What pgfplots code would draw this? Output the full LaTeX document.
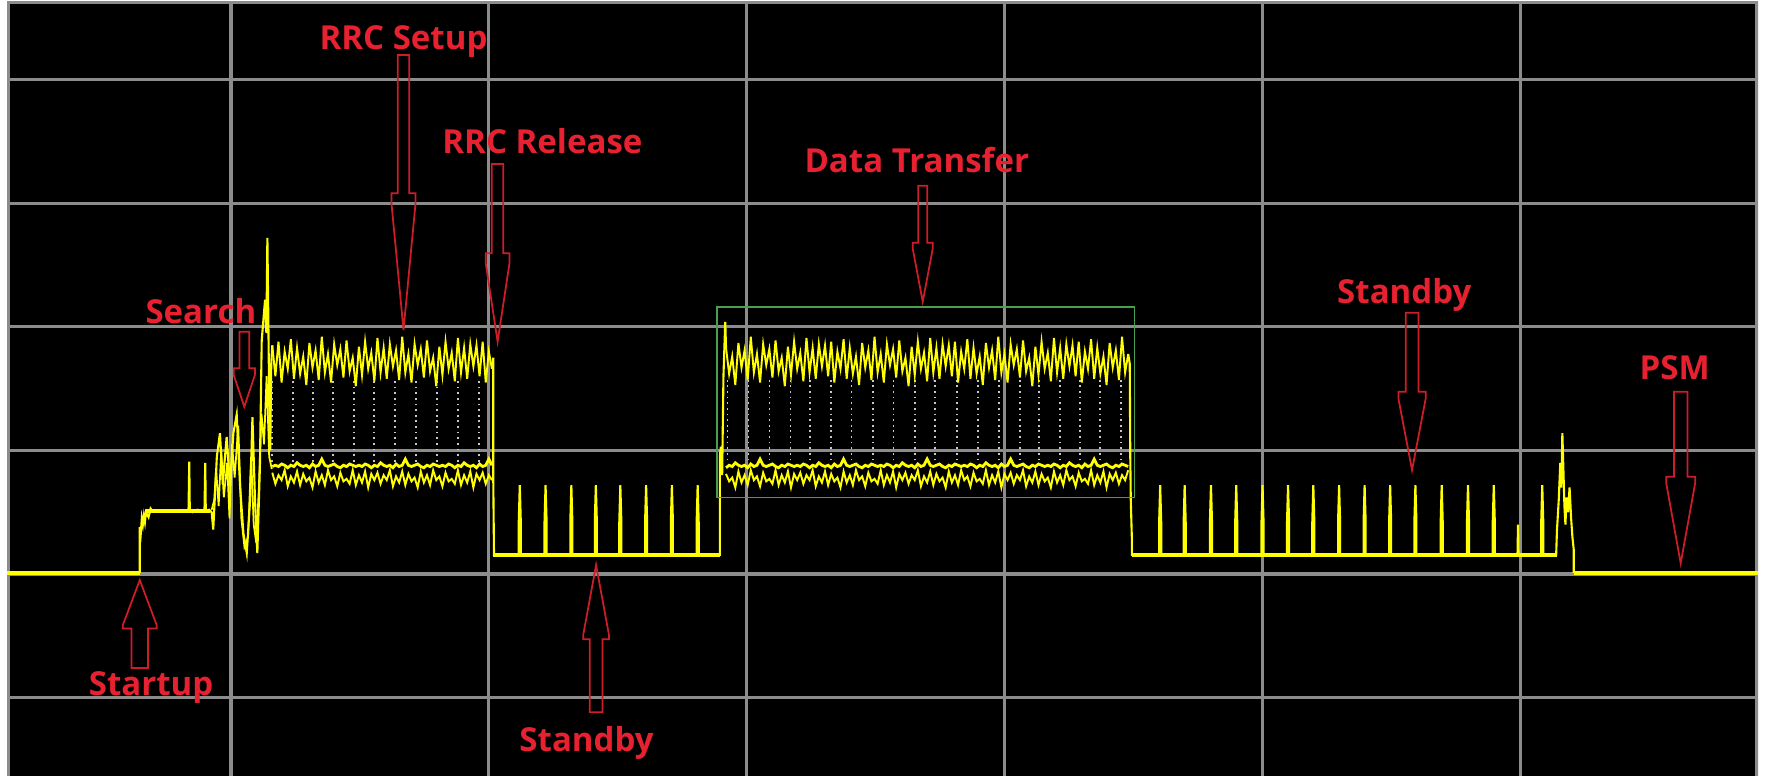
\documentclass[border=0pt]{standalone}
\usepackage{pgfplots}
\pgfplotsset{compat=1.18}
\usepackage{pgfplotstable}
\usepackage{fontspec}
\setmainfont{Open Sans}
\definecolor{trace}{RGB}{255,255,0}
\definecolor{gridgray}{RGB}{140,140,140}
\definecolor{labelred}{RGB}{232,33,48}
\definecolor{arrowred}{RGB}{205,30,40}
\definecolor{boxgreen}{RGB}{70,160,80}
\definecolor{dotgray}{RGB}{200,200,200}

\pgfplotstableread{
x u l m
0.160 1.85 0.82 0.87
0.172 1.60 0.73 0.88
0.184 1.88 0.80 0.87
0.196 1.55 0.76 0.89
0.208 1.80 0.84 0.88
0.220 1.66 0.71 0.86
0.232 1.90 0.79 0.88
0.244 1.58 0.74 0.87
0.256 1.83 0.83 0.90
0.268 1.62 0.72 0.88
0.280 1.76 0.81 0.87
0.292 1.53 0.75 0.88
0.304 1.87 0.78 0.86
0.316 1.67 0.70 0.89
0.328 1.81 0.83 0.87
0.340 1.57 0.74 0.88
0.352 1.92 0.80 0.93
0.364 1.63 0.72 0.88
0.376 1.78 0.84 0.87
0.388 1.55 0.76 0.88
0.400 1.86 0.79 0.89
0.412 1.69 0.71 0.87
0.424 1.82 0.82 0.86
0.436 1.59 0.75 0.88
0.448 1.89 0.77 0.87
0.460 1.64 0.73 0.89
0.472 1.75 0.84 0.88
0.484 1.52 0.72 0.87
0.496 1.84 0.80 0.88
0.508 1.61 0.74 0.87
0.520 1.88 0.83 0.89
0.532 1.66 0.70 0.88
0.544 1.79 0.81 0.86
0.556 1.56 0.76 0.88
0.568 1.91 0.82 0.87
0.580 1.63 0.73 0.90
0.592 1.83 0.80 0.88
0.604 1.58 0.76 0.87
0.616 1.86 0.84 0.88
0.628 1.68 0.71 0.86
0.640 1.81 0.79 0.89
0.652 1.57 0.74 0.87
0.664 1.92 0.83 0.88
0.676 1.63 0.72 0.93
0.688 1.78 0.81 0.88
0.700 1.55 0.75 0.87
0.712 1.86 0.78 0.88
0.724 1.69 0.70 0.89
0.736 1.82 0.83 0.87
0.748 1.59 0.74 0.86
0.760 1.89 0.80 0.88
0.772 1.64 0.72 0.87
0.784 1.75 0.84 0.89
0.796 1.52 0.76 0.88
0.808 1.84 0.79 0.87
0.820 1.61 0.71 0.88
0.832 1.88 0.82 0.87
0.844 1.66 0.75 0.89
0.856 1.79 0.77 0.88
0.868 1.56 0.73 0.86
0.880 1.91 0.84 0.88
0.892 1.63 0.72 0.87
0.904 1.83 0.80 0.90
0.916 1.58 0.74 0.88
0.928 1.86 0.83 0.87
0.940 1.68 0.70 0.88
0.952 1.85 0.81 0.86
0.964 1.60 0.76 0.89
0.976 1.88 0.82 0.87
0.988 1.55 0.73 0.88
1.000 1.80 0.80 0.93
1.012 1.66 0.76 0.88
}\rrc

\pgfplotstableread{
x u l m
1.920 1.83 0.81 0.86
1.932 1.62 0.75 0.88
1.944 1.76 0.78 0.87
1.956 1.53 0.70 0.90
1.968 1.87 0.83 0.88
1.980 1.67 0.74 0.87
1.992 1.81 0.80 0.88
2.004 1.57 0.72 0.86
2.016 1.92 0.84 0.89
2.028 1.63 0.76 0.87
2.040 1.78 0.79 0.88
2.052 1.55 0.71 0.93
2.064 1.86 0.82 0.88
2.076 1.69 0.75 0.87
2.088 1.82 0.77 0.88
2.100 1.59 0.73 0.89
2.112 1.89 0.84 0.87
2.124 1.64 0.72 0.86
2.136 1.75 0.80 0.88
2.148 1.52 0.74 0.87
2.160 1.84 0.83 0.89
2.172 1.61 0.70 0.88
2.184 1.88 0.81 0.87
2.196 1.66 0.76 0.88
2.208 1.79 0.82 0.87
2.220 1.56 0.73 0.89
2.232 1.91 0.80 0.88
2.244 1.63 0.76 0.86
2.256 1.83 0.84 0.88
2.268 1.58 0.71 0.87
2.280 1.86 0.79 0.90
2.292 1.68 0.74 0.88
2.304 1.85 0.83 0.87
2.316 1.60 0.72 0.88
2.328 1.88 0.81 0.86
2.340 1.55 0.75 0.89
2.352 1.80 0.78 0.87
2.364 1.66 0.70 0.88
2.376 1.90 0.83 0.93
2.388 1.58 0.74 0.88
2.400 1.83 0.80 0.87
2.412 1.62 0.72 0.88
2.424 1.76 0.84 0.89
2.436 1.53 0.76 0.87
2.448 1.87 0.79 0.86
2.460 1.67 0.71 0.88
2.472 1.81 0.82 0.87
2.484 1.57 0.75 0.89
2.496 1.92 0.77 0.88
2.508 1.63 0.73 0.87
2.520 1.78 0.84 0.88
2.532 1.55 0.72 0.87
2.544 1.86 0.80 0.89
2.556 1.69 0.74 0.88
2.568 1.82 0.83 0.86
2.580 1.59 0.70 0.88
2.592 1.89 0.81 0.87
2.604 1.64 0.76 0.90
2.616 1.75 0.82 0.88
2.628 1.52 0.73 0.87
2.640 1.84 0.80 0.88
2.652 1.61 0.76 0.86
2.664 1.88 0.84 0.89
2.676 1.66 0.71 0.87
2.688 1.79 0.79 0.88
2.700 1.56 0.74 0.93
2.712 1.91 0.83 0.88
2.724 1.63 0.72 0.87
2.736 1.83 0.81 0.88
2.748 1.58 0.75 0.89
2.760 1.86 0.78 0.87
2.772 1.68 0.70 0.86
2.784 1.85 0.83 0.88
2.796 1.60 0.74 0.87
2.808 1.88 0.80 0.89
2.820 1.55 0.72 0.88
2.832 1.80 0.84 0.87
2.844 1.66 0.76 0.88
2.856 1.90 0.79 0.87
2.868 1.58 0.71 0.89
2.880 1.83 0.82 0.88
2.892 1.62 0.75 0.86
2.904 1.76 0.77 0.88
2.916 1.53 0.73 0.87
2.928 1.87 0.84 0.90
2.940 1.67 0.72 0.88
2.952 1.81 0.80 0.87
2.964 1.57 0.74 0.88
2.976 1.92 0.83 0.86
2.988 1.63 0.70 0.89
3.000 1.78 0.81 0.87
3.012 1.55 0.76 0.88
3.024 1.86 0.82 0.93
3.036 1.69 0.73 0.88
3.048 1.82 0.80 0.87
3.060 1.59 0.76 0.88
3.072 1.89 0.84 0.89
3.084 1.64 0.71 0.87
3.096 1.75 0.79 0.86
3.108 1.52 0.74 0.88
3.120 1.84 0.83 0.87
3.132 1.61 0.72 0.89
3.144 1.88 0.81 0.88
3.156 1.66 0.75 0.87
3.168 1.79 0.78 0.88
3.180 1.56 0.70 0.87
3.192 1.91 0.83 0.89
3.204 1.63 0.74 0.88
3.216 1.83 0.80 0.86
3.228 1.58 0.72 0.88
3.240 1.86 0.84 0.87
3.252 1.68 0.76 0.90
3.264 1.85 0.79 0.88
3.276 1.60 0.71 0.87
3.288 1.88 0.82 0.88
3.300 1.55 0.75 0.86
3.312 1.80 0.77 0.89
3.324 1.66 0.73 0.87
3.336 1.90 0.84 0.88
3.348 1.58 0.72 0.93
3.360 1.83 0.80 0.88
3.372 1.62 0.74 0.87
3.384 1.76 0.83 0.88
3.396 1.53 0.70 0.89
3.408 1.87 0.81 0.87
3.420 1.67 0.76 0.86
3.432 1.81 0.82 0.88
3.444 1.57 0.73 0.87
3.456 1.92 0.80 0.89
3.468 1.63 0.76 0.88
3.480 1.78 0.84 0.87
}\dtr

% #1 centre x, #2 shaft end y, #3 head base y, #4 end of head's straight part, #5 tip y, #6 shaft half width, #7 head half width
\newcommand{\blockarrow}[7]{%
  \draw[arrowred, line width=0.5pt, line join=miter]
    (axis cs:#1-#6,#2) -- (axis cs:#1-#6,#3) -- (axis cs:#1-#7,#3) -- (axis cs:#1-#7,#4)
    -- (axis cs:#1,#5) -- (axis cs:#1+#7,#4) -- (axis cs:#1+#7,#3) -- (axis cs:#1+#6,#3)
    -- (axis cs:#1+#6,#2) -- cycle;}
\newcommand{\lab}{\fontsize{9.4}{10}\selectfont\bfseries}

\begin{document}
\begin{tikzpicture}
\path[use as bounding box] (-0.07,0) rectangle (17.58,7.76);
\begin{axis}[
  at={(0,0)}, anchor=south west,
  scale only axis, width=17.51cm, height=7.75cm,
  xmin=-0.869, xmax=5.923, ymin=-1.634, ymax=4.636,
  axis background/.style={fill=black},
  axis line style={draw=none},
  xtick={0,1,2,3,4,5}, ytick={-1,0,1,2,3,4},
  xmajorticks=false, ymajorticks=false,
  xmajorgrids=true, ymajorgrids=true,
  major grid style={gridgray, line width=0.9pt},
  unbounded coords=jump,
]
% frame on three sides (no line at the bottom edge)
\draw[gridgray, line width=1.8pt] (rel axis cs:0,0) -- (rel axis cs:0,1) -- (rel axis cs:1,1) -- (rel axis cs:1,0);

% thick flat levels
\addplot[trace, line width=1.3pt] coordinates {(-0.869,0.01) (-0.354,0.01)};
\addplot[trace, line width=1.3pt] coordinates {(5.208,0.01) (5.923,0.01)};
\addplot[trace, line width=1.0pt] coordinates {(-0.33,0.51) (-0.08,0.51)};
\addplot[trace, line width=1.0pt] coordinates {(1.017,0.155) (1.896,0.155)};
\addplot[trace, line width=1.0pt] coordinates {(3.494,0.155) (5.143,0.155)};

% startup and search
\addplot[trace, line width=0.6pt] coordinates {
(-0.354,0.01) (-0.354,0.38) (-0.350,0.33) (-0.346,0.45) (-0.342,0.40) (-0.338,0.47) (-0.334,0.42)
(-0.330,0.50) (-0.320,0.46) (-0.312,0.53) (-0.305,0.51) (-0.290,0.51) (-0.260,0.51) (-0.230,0.51)
(-0.200,0.51) (-0.165,0.51) (-0.162,0.91) (-0.160,0.51) (-0.150,0.50) (-0.130,0.52) (-0.103,0.51)
(-0.100,0.90) (-0.098,0.51) (-0.085,0.52) (-0.075,0.50) (-0.069,0.36) (-0.055,0.95) (-0.043,1.14)
(-0.032,0.73) (-0.017,1.11) (-0.004,0.71) (0.009,1.14) (0.022,1.29) (0.035,0.71) (0.048,0.33)
(0.061,0.17) (0.074,0.60) (0.083,1.27) (0.093,0.60) (0.102,0.17) (0.112,0.87) (0.119,1.89)
(0.132,2.22) (0.137,1.95) (0.141,2.72) (0.145,2.00) (0.148,1.40) (0.152,1.00) (0.156,1.70) (0.160,1.85)};
\addplot[trace, line width=0.5pt] coordinates {
(-0.075,0.52) (-0.065,0.60) (-0.058,0.85) (-0.048,0.55) (-0.038,1.00) (-0.028,0.62) (-0.015,0.90)
(-0.006,0.45) (0.004,1.05) (0.014,0.78) (0.028,1.20) (0.040,0.45) (0.052,0.22) (0.066,0.30)
(0.078,0.95) (0.088,0.40) (0.098,0.25) (0.108,0.70) (0.118,1.30) (0.128,1.05) (0.138,1.60)
(0.148,0.95) (0.158,0.85)};

% dotted retrace lines
\addplot[dotgray, line width=0.5pt, dash pattern=on 0.5pt off 1.1pt] coordinates {
(0.158,0.91) (0.158,1.56) (0.158,nan)
(0.240,0.91) (0.240,1.56) (0.240,nan)
(0.318,0.91) (0.318,1.56) (0.318,nan)
(0.396,0.91) (0.396,1.56) (0.396,nan)
(0.476,0.91) (0.476,1.56) (0.476,nan)
(0.555,0.91) (0.555,1.56) (0.555,nan)
(0.636,0.91) (0.636,1.56) (0.636,nan)
(0.718,0.91) (0.718,1.56) (0.718,nan)
(0.799,0.91) (0.799,1.56) (0.799,nan)
(0.880,0.91) (0.880,1.56) (0.880,nan)
(0.962,0.91) (0.962,1.56) (0.962,nan)
(1.926,0.92) (1.926,1.60) (1.926,nan)
(2.007,0.92) (2.007,1.60) (2.007,nan)
(2.089,0.92) (2.089,1.60) (2.089,nan)
(2.170,0.92) (2.170,1.60) (2.170,nan)
(2.247,0.92) (2.247,1.60) (2.247,nan)
(2.326,0.92) (2.326,1.60) (2.326,nan)
(2.407,0.92) (2.407,1.60) (2.407,nan)
(2.489,0.92) (2.489,1.60) (2.489,nan)
(2.570,0.92) (2.570,1.60) (2.570,nan)
(2.652,0.92) (2.652,1.60) (2.652,nan)
(2.730,0.92) (2.730,1.60) (2.730,nan)
(2.815,0.92) (2.815,1.60) (2.815,nan)
(2.897,0.92) (2.897,1.60) (2.897,nan)
(2.978,0.92) (2.978,1.60) (2.978,nan)
(3.060,0.92) (3.060,1.60) (3.060,nan)
(3.134,0.92) (3.134,1.60) (3.134,nan)
(3.215,0.92) (3.215,1.60) (3.215,nan)
(3.293,0.92) (3.293,1.60) (3.293,nan)
(3.371,0.92) (3.371,1.60) (3.371,nan)
(3.452,0.92) (3.452,1.60)};

% RRC bands
\addplot[trace, line width=0.55pt] table[x=x, y=u] {\rrc};
\addplot[trace, line width=0.55pt] table[x=x, y=l] {\rrc};
\addplot[trace, line width=0.8pt] table[x=x, y=m] {\rrc};
% data transfer bands
\addplot[trace, line width=0.55pt] table[x=x, y=u] {\dtr};
\addplot[trace, line width=0.55pt] table[x=x, y=l] {\dtr};
\addplot[trace, line width=0.8pt] table[x=x, y=m] {\dtr};

% RRC release and standby 1
\addplot[trace, line width=0.6pt] coordinates {
(1.012,1.66) (1.017,1.75) (1.017,0.80) (1.020,0.155)
(1.116,0.155) (1.116,0.42) (1.120,0.72) (1.124,0.42) (1.124,0.155)
(1.216,0.155) (1.216,0.42) (1.220,0.72) (1.224,0.42) (1.224,0.155)
(1.316,0.155) (1.316,0.42) (1.320,0.72) (1.324,0.42) (1.324,0.155)
(1.411,0.155) (1.411,0.42) (1.415,0.72) (1.419,0.42) (1.419,0.155)
(1.506,0.155) (1.506,0.42) (1.510,0.72) (1.514,0.42) (1.514,0.155)
(1.606,0.155) (1.606,0.42) (1.610,0.72) (1.614,0.42) (1.614,0.155)
(1.706,0.155) (1.706,0.42) (1.710,0.72) (1.714,0.42) (1.714,0.155)
(1.806,0.155) (1.806,0.42) (1.810,0.72) (1.814,0.42) (1.814,0.155)
(1.896,0.155) (1.896,0.95) (1.900,1.03) (1.905,0.80) (1.910,1.60) (1.917,2.04) (1.920,1.83)};

% end of data transfer, standby 2, final burst
\addplot[trace, line width=0.6pt] coordinates {
(3.480,1.78) (3.486,1.70) (3.488,0.95) (3.490,0.60) (3.494,0.30) (3.494,0.155)
(3.600,0.155) (3.600,0.42) (3.604,0.72) (3.608,0.42) (3.608,0.155)
(3.695,0.155) (3.695,0.42) (3.699,0.72) (3.703,0.42) (3.703,0.155)
(3.797,0.155) (3.797,0.42) (3.801,0.72) (3.805,0.42) (3.805,0.155)
(3.895,0.155) (3.895,0.42) (3.899,0.72) (3.903,0.42) (3.903,0.155)
(3.997,0.155) (3.997,0.42) (4.001,0.72) (4.005,0.42) (4.005,0.155)
(4.096,0.155) (4.096,0.42) (4.100,0.72) (4.104,0.42) (4.104,0.155)
(4.194,0.155) (4.194,0.42) (4.198,0.72) (4.202,0.42) (4.202,0.155)
(4.294,0.155) (4.294,0.42) (4.298,0.72) (4.302,0.42) (4.302,0.155)
(4.393,0.155) (4.393,0.42) (4.397,0.72) (4.401,0.42) (4.401,0.155)
(4.492,0.155) (4.492,0.42) (4.496,0.72) (4.500,0.42) (4.500,0.155)
(4.590,0.155) (4.590,0.42) (4.594,0.72) (4.598,0.42) (4.598,0.155)
(4.692,0.155) (4.692,0.42) (4.696,0.72) (4.700,0.42) (4.700,0.155)
(4.794,0.155) (4.794,0.42) (4.798,0.72) (4.802,0.42) (4.802,0.155)
(4.894,0.155) (4.894,0.42) (4.898,0.72) (4.902,0.42) (4.902,0.155)
(4.990,0.155) (4.992,0.40) (4.994,0.155)
(5.082,0.155) (5.082,0.42) (5.086,0.72) (5.090,0.42) (5.090,0.155)
(5.140,0.155) (5.143,0.35) (5.150,0.60) (5.156,0.90) (5.160,0.70) (5.164,1.14) (5.168,0.85)
(5.172,0.55) (5.176,0.40) (5.180,0.62) (5.186,0.50) (5.192,0.70) (5.198,0.45) (5.203,0.30)
(5.208,0.20) (5.208,0.01)};

% green selection box
\draw[boxgreen, line width=0.5pt] (axis cs:1.884,0.62) rectangle (axis cs:3.504,2.158);

% arrows
\blockarrow{0.669}{4.199}{3.08}{3.00}{1.974}{0.0222}{0.0467}
\blockarrow{1.034}{3.317}{2.595}{2.514}{1.88}{0.0223}{0.046}
\blockarrow{0.0515}{1.96}{1.664}{1.61}{1.354}{0.019}{0.041}
\blockarrow{2.683}{3.142}{2.68}{2.635}{2.203}{0.0174}{0.039}
\blockarrow{4.581}{2.114}{1.475}{1.421}{0.841}{0.0247}{0.053}
\blockarrow{5.623}{1.475}{0.787}{0.734}{0.087}{0.026}{0.056}
\blockarrow{-0.354}{-0.76}{-0.44}{-0.413}{-0.0485}{0.032}{0.0656}
\blockarrow{1.416}{-1.119}{-0.528}{-0.4935}{0.073}{0.0245}{0.05}

% labels
\node[labelred, anchor=base, font=\lab] at (axis cs:0.669,4.24) {RRC Setup};
\node[labelred, anchor=base, font=\lab] at (axis cs:1.208,3.404) {RRC Release};
\node[labelred, anchor=base, font=\lab] at (axis cs:-0.117,2.028) {Search};
\node[labelred, anchor=base, font=\lab] at (axis cs:-0.31,-0.979) {Startup};
\node[labelred, anchor=base, font=\lab] at (axis cs:1.379,-1.438) {Standby};
\node[labelred, anchor=base, font=\lab] at (axis cs:2.66,3.247) {Data Transfer};
\node[labelred, anchor=base, font=\lab] at (axis cs:4.551,2.19) {Standby};
\node[labelred, anchor=base, font=\lab] at (axis cs:5.60,1.575) {PSM};
\end{axis}
\end{tikzpicture}
\end{document}
